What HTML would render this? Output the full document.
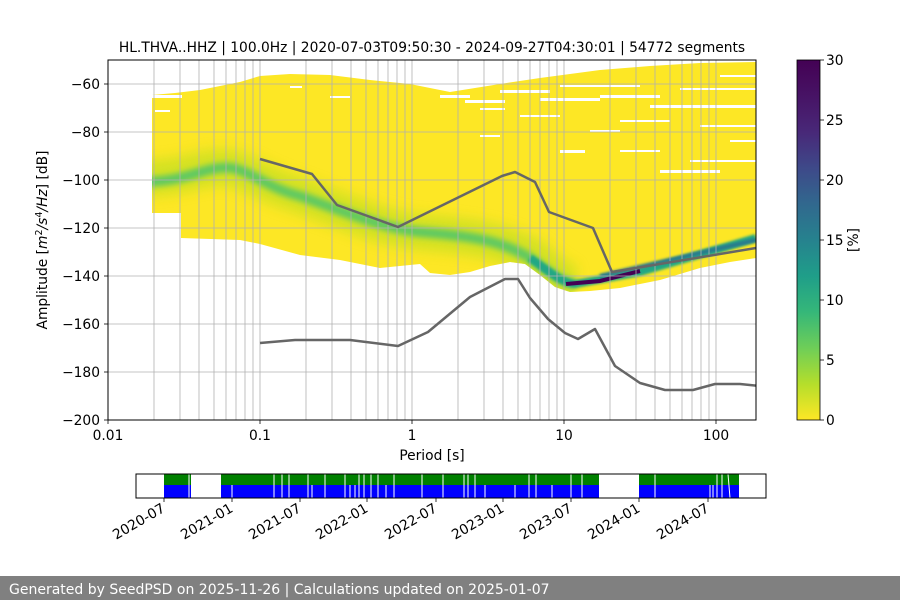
<!DOCTYPE html>
<html><head><meta charset="utf-8"><style>
body{margin:0;background:#fff;}
svg text{font-family:"DejaVu Sans","Liberation Sans",sans-serif;}
</style></head><body>
<svg width="900" height="600" viewBox="0 0 900 600" xmlns="http://www.w3.org/2000/svg">
<defs>
<filter id="b1" x="-10%" y="-50%" width="120%" height="200%"><feGaussianBlur stdDeviation="6"/></filter>
<filter id="b2" x="-10%" y="-50%" width="120%" height="200%"><feGaussianBlur stdDeviation="3"/></filter>
<filter id="b3" x="-10%" y="-50%" width="120%" height="200%"><feGaussianBlur stdDeviation="1.2"/></filter>
<linearGradient id="vir" x1="0" y1="1" x2="0" y2="0">
<stop offset="0" stop-color="#fde725"/><stop offset="0.1" stop-color="#b5de2b"/><stop offset="0.2" stop-color="#6ece58"/>
<stop offset="0.3" stop-color="#35b779"/><stop offset="0.4" stop-color="#1f9e89"/><stop offset="0.5" stop-color="#26828e"/>
<stop offset="0.6" stop-color="#31688e"/><stop offset="0.7" stop-color="#3e4989"/><stop offset="0.8" stop-color="#482878"/>
<stop offset="0.9" stop-color="#471365"/><stop offset="1" stop-color="#440154"/></linearGradient>
<clipPath id="pc"><rect x="108" y="60" width="648" height="360"/></clipPath>
<clipPath id="yc"><polygon points="152,95 175,93 200,90 240,82 260,76 290,74 330,75 370,80 410,84 450,92 500,84 540,78 600,70 650,66 700,63 756,62 756,258 730,262 700,268 660,280 620,288 590,291 570,292 555,287 540,275 525,264 510,262 490,266 470,272 450,275 430,273 420,264 380,268 340,260 300,255 260,244 240,240 181,238 181,213 152,213"/></clipPath>
</defs>
<text x="432" y="52" font-size="13.8" text-anchor="middle">HL.THVA..HHZ | 100.0Hz | 2020-07-03T09:50:30 - 2024-09-27T04:30:01 | 54772 segments</text>
<g clip-path="url(#pc)">
<polygon fill="#fde725" points="152,95 175,93 200,90 240,82 260,76 290,74 330,75 370,80 410,84 450,92 500,84 540,78 600,70 650,66 700,63 756,62 756,258 730,262 700,268 660,280 620,288 590,291 570,292 555,287 540,275 525,264 510,262 490,266 470,272 450,275 430,273 420,264 380,268 340,260 300,255 260,244 240,240 181,238 181,213 152,213"/>
<g fill="#fff">
<rect x="152" y="95" width="30" height="3"/><rect x="155" y="110" width="15" height="2"/><rect x="290" y="86" width="12" height="2"/><rect x="330" y="96" width="20" height="2"/>
<rect x="440" y="95" width="30" height="3"/><rect x="465" y="100" width="40" height="3"/><rect x="480" y="108" width="25" height="2"/><rect x="500" y="90" width="50" height="3"/>
<rect x="520" y="115" width="40" height="2"/><rect x="540" y="98" width="60" height="3"/><rect x="560" y="85" width="80" height="2"/><rect x="600" y="95" width="60" height="3"/>
<rect x="620" y="120" width="50" height="2"/><rect x="650" y="105" width="106" height="3"/><rect x="680" y="88" width="76" height="2"/><rect x="700" y="125" width="56" height="2"/>
<rect x="660" y="170" width="60" height="3"/><rect x="690" y="160" width="66" height="2"/><rect x="620" y="150" width="40" height="2"/><rect x="730" y="140" width="26" height="2"/>
<rect x="480" y="135" width="20" height="2"/><rect x="560" y="150" width="25" height="3"/><rect x="720" y="75" width="36" height="2"/><rect x="590" y="130" width="30" height="2"/>
</g>
<g clip-path="url(#yc)">
<path d="M140,178 C190,178 200,165 230,168 C250,172 265,185 300,195 C340,210 380,228 420,232 C470,236 500,240 530,255 C550,270 560,282 575,284" fill="none" stroke="#c2df23" stroke-width="36" filter="url(#b1)" opacity="0.7"/>
<path d="M140,182 C190,182 205,165 232,168 C252,172 268,188 300,196 C340,210 380,228 420,232 C470,236 500,240 530,258 C550,272 560,282 575,284" fill="none" stroke="#5ec962" stroke-width="10" filter="url(#b2)"/>
<path d="M530,258 C550,272 560,282 575,284 L640,272 L756,238" fill="none" stroke="#22a884" stroke-width="8" filter="url(#b3)"/>
<path d="M600,276 L756,240" fill="none" stroke="#2a788e" stroke-width="4" filter="url(#b3)"/>
<path d="M566,284 L600,281 L640,271" fill="none" stroke="#440154" stroke-width="4"/>
</g>
</g>
<g stroke="#b0b0b0" stroke-width="0.8">
<line x1="154" y1="60" x2="154" y2="420"/><line x1="180" y1="60" x2="180" y2="420"/><line x1="199" y1="60" x2="199" y2="420"/><line x1="214" y1="60" x2="214" y2="420"/><line x1="226" y1="60" x2="226" y2="420"/><line x1="236" y1="60" x2="236" y2="420"/><line x1="245" y1="60" x2="245" y2="420"/><line x1="253" y1="60" x2="253" y2="420"/><line x1="260" y1="60" x2="260" y2="420"/>
<line x1="306" y1="60" x2="306" y2="420"/><line x1="332" y1="60" x2="332" y2="420"/><line x1="351" y1="60" x2="351" y2="420"/><line x1="366" y1="60" x2="366" y2="420"/><line x1="378" y1="60" x2="378" y2="420"/><line x1="388" y1="60" x2="388" y2="420"/><line x1="397" y1="60" x2="397" y2="420"/><line x1="405" y1="60" x2="405" y2="420"/><line x1="412" y1="60" x2="412" y2="420"/>
<line x1="458" y1="60" x2="458" y2="420"/><line x1="484" y1="60" x2="484" y2="420"/><line x1="503" y1="60" x2="503" y2="420"/><line x1="518" y1="60" x2="518" y2="420"/><line x1="530" y1="60" x2="530" y2="420"/><line x1="540" y1="60" x2="540" y2="420"/><line x1="549" y1="60" x2="549" y2="420"/><line x1="557" y1="60" x2="557" y2="420"/><line x1="564" y1="60" x2="564" y2="420"/>
<line x1="610" y1="60" x2="610" y2="420"/><line x1="636" y1="60" x2="636" y2="420"/><line x1="655" y1="60" x2="655" y2="420"/><line x1="670" y1="60" x2="670" y2="420"/><line x1="682" y1="60" x2="682" y2="420"/><line x1="692" y1="60" x2="692" y2="420"/><line x1="701" y1="60" x2="701" y2="420"/><line x1="709" y1="60" x2="709" y2="420"/><line x1="716" y1="60" x2="716" y2="420"/>
<line x1="108" y1="84" x2="756" y2="84"/><line x1="108" y1="132" x2="756" y2="132"/><line x1="108" y1="180" x2="756" y2="180"/><line x1="108" y1="228" x2="756" y2="228"/><line x1="108" y1="276" x2="756" y2="276"/><line x1="108" y1="324" x2="756" y2="324"/><line x1="108" y1="372" x2="756" y2="372"/>
</g>
<g fill="none" stroke="#666" stroke-width="2.5" stroke-linejoin="round" clip-path="url(#pc)">
<polyline points="260,159 312,174 337,205 398,227 502,176 515,172 535,182 549,212 593,228 612,272 756,248"/>
<polyline points="260,343 295,340 350,340 398,346 428,332 470,297 505,279 518,279 530,298 548,319 565,333 578,339 595,329 615,366 640,383 665,390 693,390 715,384 740,384 760,386"/>
</g>
<rect x="108" y="60" width="648" height="360" fill="none" stroke="#000" stroke-width="1"/>
<g stroke="#000" stroke-width="0.8">
<line x1="104" y1="84" x2="108" y2="84"/><line x1="104" y1="132" x2="108" y2="132"/><line x1="104" y1="180" x2="108" y2="180"/><line x1="104" y1="228" x2="108" y2="228"/><line x1="104" y1="276" x2="108" y2="276"/><line x1="104" y1="324" x2="108" y2="324"/><line x1="104" y1="372" x2="108" y2="372"/><line x1="104" y1="420" x2="108" y2="420"/>
<line x1="108" y1="420" x2="108" y2="424"/><line x1="260" y1="420" x2="260" y2="424"/><line x1="412" y1="420" x2="412" y2="424"/><line x1="564" y1="420" x2="564" y2="424"/><line x1="716" y1="420" x2="716" y2="424"/>
</g>
<g font-size="13.8" text-anchor="end">
<text x="100" y="89">−60</text><text x="100" y="137">−80</text><text x="100" y="185">−100</text><text x="100" y="233">−120</text><text x="100" y="281">−140</text><text x="100" y="329">−160</text><text x="100" y="377">−180</text><text x="100" y="425">−200</text>
</g>
<g font-size="13.8" text-anchor="middle">
<text x="108" y="440">0.01</text><text x="260" y="440">0.1</text><text x="412" y="440">1</text><text x="564" y="440">10</text><text x="716" y="440">100</text>
<text x="432" y="460">Period [s]</text>
</g>
<text transform="translate(47,240) rotate(-90)" font-size="13.8" text-anchor="middle">Amplitude [<tspan font-style="italic">m</tspan><tspan font-size="9.5" dy="-5">2</tspan><tspan dy="5" font-style="italic">/s</tspan><tspan font-size="9.5" dy="-5">4</tspan><tspan dy="5" font-style="italic">/Hz</tspan>] [dB]</text>
<rect x="797" y="60" width="23" height="360" fill="url(#vir)"/>
<rect x="797" y="60" width="23" height="360" fill="none" stroke="#000" stroke-width="0.8"/>
<g stroke="#000" stroke-width="0.8">
<line x1="820" y1="60" x2="824" y2="60"/><line x1="820" y1="120" x2="824" y2="120"/><line x1="820" y1="180" x2="824" y2="180"/><line x1="820" y1="240" x2="824" y2="240"/><line x1="820" y1="300" x2="824" y2="300"/><line x1="820" y1="360" x2="824" y2="360"/><line x1="820" y1="420" x2="824" y2="420"/>
</g>
<g font-size="13.8">
<text x="826" y="65">30</text><text x="826" y="125">25</text><text x="826" y="185">20</text><text x="826" y="245">15</text><text x="826" y="305">10</text><text x="826" y="365">5</text><text x="826" y="425">0</text>
</g>
<text transform="translate(858,240) rotate(-90)" font-size="13.8" text-anchor="middle">[%]</text>
<g>
<rect x="164" y="474" width="27" height="11" fill="#008000"/><rect x="221" y="474" width="378" height="11" fill="#008000"/><rect x="639" y="474" width="100" height="11" fill="#008000"/>
<rect x="164" y="485" width="27" height="13" fill="#0000ff"/><rect x="221" y="485" width="378" height="13" fill="#0000ff"/><rect x="639" y="485" width="100" height="13" fill="#0000ff"/>
<g stroke="#fff" stroke-width="1">
<line x1="189" y1="474" x2="189" y2="498"/><line x1="274" y1="474" x2="274" y2="498"/><line x1="282" y1="474" x2="282" y2="498"/><line x1="289" y1="474" x2="289" y2="498"/><line x1="308" y1="474" x2="308" y2="498"/><line x1="325" y1="474" x2="325" y2="498"/><line x1="345" y1="474" x2="345" y2="498"/><line x1="359" y1="474" x2="359" y2="498"/><line x1="364" y1="474" x2="364" y2="498"/><line x1="371" y1="474" x2="371" y2="498"/><line x1="378" y1="474" x2="378" y2="498"/><line x1="394" y1="474" x2="394" y2="498"/><line x1="422" y1="474" x2="422" y2="498"/><line x1="443" y1="474" x2="443" y2="498"/><line x1="464" y1="474" x2="464" y2="498"/><line x1="468" y1="474" x2="468" y2="498"/><line x1="475" y1="474" x2="475" y2="498"/><line x1="529" y1="474" x2="529" y2="498"/><line x1="536" y1="474" x2="536" y2="498"/><line x1="571" y1="474" x2="571" y2="498"/><line x1="582" y1="474" x2="582" y2="498"/><line x1="655" y1="474" x2="655" y2="498"/><line x1="717" y1="474" x2="717" y2="498"/><line x1="722" y1="474" x2="722" y2="498"/><line x1="728" y1="474" x2="730" y2="498"/>
<line x1="232" y1="485" x2="232" y2="498"/><line x1="312" y1="485" x2="312" y2="498"/><line x1="350" y1="485" x2="350" y2="498"/><line x1="355" y1="485" x2="355" y2="498"/><line x1="386" y1="485" x2="386" y2="498"/><line x1="485" y1="485" x2="485" y2="498"/><line x1="515" y1="485" x2="515" y2="498"/><line x1="552" y1="485" x2="552" y2="498"/><line x1="710" y1="485" x2="710" y2="498"/><line x1="713" y1="485" x2="713" y2="498"/>
</g>
<rect x="136" y="474" width="630" height="24" fill="none" stroke="#000" stroke-width="1"/>
<g stroke="#000" stroke-width="0.8">
<line x1="164" y1="498" x2="164" y2="502"/><line x1="232" y1="498" x2="232" y2="502"/><line x1="300" y1="498" x2="300" y2="502"/><line x1="367" y1="498" x2="367" y2="502"/><line x1="436" y1="498" x2="436" y2="502"/><line x1="503" y1="498" x2="503" y2="502"/><line x1="571" y1="498" x2="571" y2="502"/><line x1="639" y1="498" x2="639" y2="502"/><line x1="708" y1="498" x2="708" y2="502"/>
</g>
<g font-size="13.8" text-anchor="end">
<text transform="translate(166,511) rotate(-30)">2020-07</text><text transform="translate(234,511) rotate(-30)">2021-01</text><text transform="translate(302,511) rotate(-30)">2021-07</text><text transform="translate(369,511) rotate(-30)">2022-01</text><text transform="translate(438,511) rotate(-30)">2022-07</text><text transform="translate(505,511) rotate(-30)">2023-01</text><text transform="translate(573,511) rotate(-30)">2023-07</text><text transform="translate(641,511) rotate(-30)">2024-01</text><text transform="translate(710,511) rotate(-30)">2024-07</text>
</g>
</g>
<rect x="0" y="576" width="900" height="24" fill="#808080"/>
<text x="9" y="594" font-size="14" fill="#fff">Generated by SeedPSD on 2025-11-26 | Calculations updated on 2025-01-07</text>
</svg>
</body></html>
